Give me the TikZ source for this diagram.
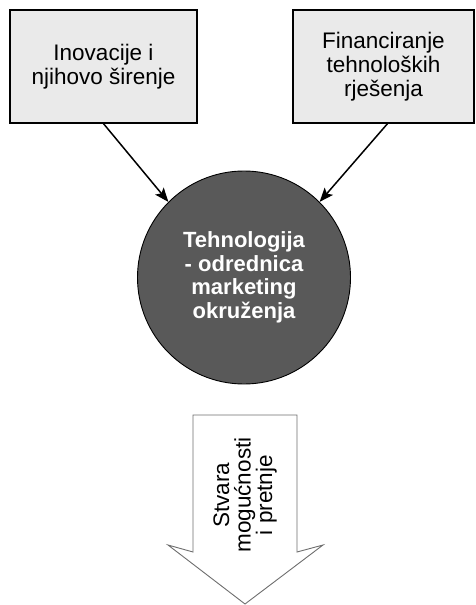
\documentclass[tikz,border=0pt]{standalone}
\usepackage{fontspec}
\setmainfont{Liberation Sans}
\usetikzlibrary{arrows.meta}
\definecolor{boxfill}{HTML}{EAEAEA}
\definecolor{circfill}{HTML}{595959}
\definecolor{arrowline}{HTML}{6E6E6E}
\begin{document}
\begin{tikzpicture}[x=1pt,y=-1pt,
  txt/.style={font=\fontsize{22.5}{24}\selectfont, align=center, inner sep=0pt},
  srcbox/.style={txt, draw=black, line width=1.3pt, fill=boxfill, rectangle, minimum height=113pt},
  hubcircle/.style={txt, circle, draw=black, line width=0.9pt, fill=circfill, text=white, font=\fontsize{22}{23.5}\selectfont\bfseries, minimum size=213pt},
  conn/.style={draw=black, line width=1.5pt, -{Stealth[length=14pt,width=11pt,inset=3pt]}},
  bigarrow/.style={draw=arrowline, line width=0.9pt, fill=white, line join=miter}
]
\useasboundingbox (0,0) rectangle (476,605);

\node[srcbox, minimum width=187pt] (lb) at (103.5,66.5) {Inovacije i\\njihovo širenje};
\node[srcbox, minimum width=181pt] (rb) at (383.5,66.5) {Financiranje\\tehnoloških\\rješenja};
\node[hubcircle] (c) at (244,277.5) {Tehnologija\\- odrednica\\marketing\\okruženja};

\draw[conn] (lb.south) -- (c.135);
\draw[conn] ([xshift=4pt]rb.south) -- (c.45);

\draw[bigarrow] (193,415) -- (297,415) -- (297,552) -- (323,545) -- (245,604) -- (168,545) -- (193,552) -- cycle;
\node[txt, rotate=90, font=\fontsize{22.5}{21.5}\selectfont] (t) at (245,495) {Stvara\\mogućnosti\\i pretnje};
\end{tikzpicture}
\end{document}
